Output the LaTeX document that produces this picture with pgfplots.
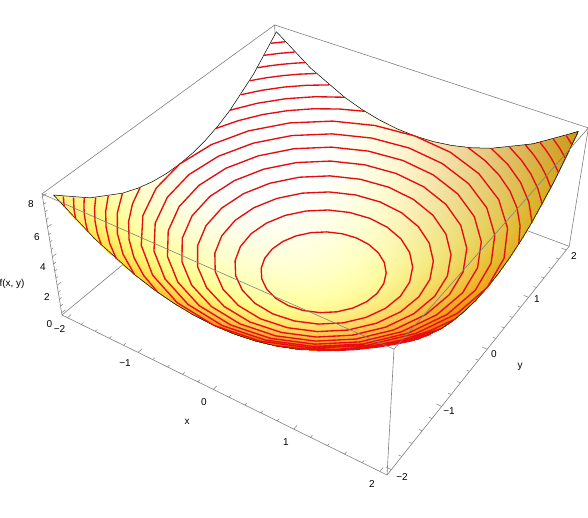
\documentclass[border=0pt]{standalone}
\usepackage{fontspec}
\setmainfont{Liberation Sans}
\usepackage{pgfplots}
\pgfplotsset{compat=1.18}
\definecolor{boxgray}{gray}{0.5}
\definecolor{txtgray}{gray}{0.38}
\definecolor{cont}{rgb}{0.9,0.05,0.07}
% perspective projection of the data coordinates to picture coordinates
\newcommand{\WW}{(1.03058-0.03101*\thisrow{x}+0.04639*\thisrow{y}-0.008894*\thisrow{z})}
\newcommand{\PX}{(333.356+66.13*\thisrow{x}+64.54*\thisrow{y}-2.776*\thisrow{z})/\WW}
\newcommand{\PY}{517-(285.945+23.73*\thisrow{x}-36.44*\thisrow{y}-16.28*\thisrow{z})/\WW}
\pgfmathdeclarefunction{zcl}{1}{\pgfmathparse{#1>1?1:(#1<0?0:#1)}}
\pgfmathdeclarefunction{zclg}{1}{\pgfmathparse{#1>1?1:(#1<0.41?0.41:#1)}}
\pgfmathdeclarefunction{pos}{1}{\pgfmathparse{#1>0?#1:0}}
\newcommand{\Xv}{(\thisrow{x})}
\newcommand{\Yv}{(\thisrow{y})}
\begin{document}
\begin{tikzpicture}
\useasboundingbox (0,0) rectangle (588pt,517pt);
\begin{axis}[at={(0,0)},anchor=south west,scale only axis,width=588pt,height=517pt,
  xmin=0,xmax=588,ymin=0,ymax=517,hide axis,clip=false,unbounded coords=jump,
  every node/.append style={font=\fontsize{9}{10}\selectfont,text=txtgray,inner sep=0pt}]
% back edges of the box
\addplot[boxgray,line width=0.6pt,no markers] table[x expr=\PX,y expr=\PY]{
x y z
-2.08 -2.08 8.16
-2.08 2.08 8.16
2.08 2.08 8.16
nan nan nan
-2.08 2.08 8.16
-2.08 2.08 -0.16
nan nan nan
-2.08 -2.08 -0.16
-2.08 2.08 -0.16
2.08 2.08 -0.16
};
% surface
\addplot[surf,shader=interp,mesh/cols=17,mesh/color input=explicit mathparse,
 point meta={symbolic={zcl((262-12*\Xv-3*\Yv-7*pos(\Xv)*pos(\Yv))/255),%
zclg((262-11*\Xv-4*\Yv-3.5*(\Xv+\Yv)*(\Xv+\Yv)-6*pos(\Xv)*pos(\Yv)-16*pos(\Xv-\Yv)*pos(\Xv-\Yv)-25*(\Xv+2)*pos(-\Yv-1)*pos(-\Yv-1))/255),%
zcl((195+45*(\Yv-\Xv)-12*(\Xv*\Xv+\Yv*\Yv)-18*pos(\Xv+\Yv)+6*pos(-\Xv-\Yv)-12*pos(-\Yv)*pos(-\Yv)+250*pos(-\Xv-1.5)*pos(-\Yv-1.5))/255)}}]
 table[x expr=\PX,y expr=\PY]{
x y z
-2 2 8
-1.75 2 7.0625
-1.5 2 6.25
-1.25 2 5.5625
-1 2 5
-0.75 2 4.5625
-0.5 2 4.25
-0.25 2 4.0625
0 2 4
0.25 2 4.0625
0.5 2 4.25
0.75 2 4.5625
1 2 5
1.25 2 5.5625
1.5 2 6.25
1.75 2 7.0625
2 2 8
-2 1.75 7.0625
-1.75 1.75 6.125
-1.5 1.75 5.3125
-1.25 1.75 4.625
-1 1.75 4.0625
-0.75 1.75 3.625
-0.5 1.75 3.3125
-0.25 1.75 3.125
0 1.75 3.0625
0.25 1.75 3.125
0.5 1.75 3.3125
0.75 1.75 3.625
1 1.75 4.0625
1.25 1.75 4.625
1.5 1.75 5.3125
1.75 1.75 6.125
2 1.75 7.0625
-2 1.5 6.25
-1.75 1.5 5.3125
-1.5 1.5 4.5
-1.25 1.5 3.8125
-1 1.5 3.25
-0.75 1.5 2.8125
-0.5 1.5 2.5
-0.25 1.5 2.3125
0 1.5 2.25
0.25 1.5 2.3125
0.5 1.5 2.5
0.75 1.5 2.8125
1 1.5 3.25
1.25 1.5 3.8125
1.5 1.5 4.5
1.75 1.5 5.3125
2 1.5 6.25
-2 1.25 5.5625
-1.75 1.25 4.625
-1.5 1.25 3.8125
-1.25 1.25 3.125
-1 1.25 2.5625
-0.75 1.25 2.125
-0.5 1.25 1.8125
-0.25 1.25 1.625
0 1.25 1.5625
0.25 1.25 1.625
0.5 1.25 1.8125
0.75 1.25 2.125
1 1.25 2.5625
1.25 1.25 3.125
1.5 1.25 3.8125
1.75 1.25 4.625
2 1.25 5.5625
-2 1 5
-1.75 1 4.0625
-1.5 1 3.25
-1.25 1 2.5625
-1 1 2
-0.75 1 1.5625
-0.5 1 1.25
-0.25 1 1.0625
0 1 1
0.25 1 1.0625
0.5 1 1.25
0.75 1 1.5625
1 1 2
1.25 1 2.5625
1.5 1 3.25
1.75 1 4.0625
2 1 5
-2 0.75 4.5625
-1.75 0.75 3.625
-1.5 0.75 2.8125
-1.25 0.75 2.125
-1 0.75 1.5625
-0.75 0.75 1.125
-0.5 0.75 0.8125
-0.25 0.75 0.625
0 0.75 0.5625
0.25 0.75 0.625
0.5 0.75 0.8125
0.75 0.75 1.125
1 0.75 1.5625
1.25 0.75 2.125
1.5 0.75 2.8125
1.75 0.75 3.625
2 0.75 4.5625
-2 0.5 4.25
-1.75 0.5 3.3125
-1.5 0.5 2.5
-1.25 0.5 1.8125
-1 0.5 1.25
-0.75 0.5 0.8125
-0.5 0.5 0.5
-0.25 0.5 0.3125
0 0.5 0.25
0.25 0.5 0.3125
0.5 0.5 0.5
0.75 0.5 0.8125
1 0.5 1.25
1.25 0.5 1.8125
1.5 0.5 2.5
1.75 0.5 3.3125
2 0.5 4.25
-2 0.25 4.0625
-1.75 0.25 3.125
-1.5 0.25 2.3125
-1.25 0.25 1.625
-1 0.25 1.0625
-0.75 0.25 0.625
-0.5 0.25 0.3125
-0.25 0.25 0.125
0 0.25 0.0625
0.25 0.25 0.125
0.5 0.25 0.3125
0.75 0.25 0.625
1 0.25 1.0625
1.25 0.25 1.625
1.5 0.25 2.3125
1.75 0.25 3.125
2 0.25 4.0625
-2 0 4
-1.75 0 3.0625
-1.5 0 2.25
-1.25 0 1.5625
-1 0 1
-0.75 0 0.5625
-0.5 0 0.25
-0.25 0 0.0625
0 0 0
0.25 0 0.0625
0.5 0 0.25
0.75 0 0.5625
1 0 1
1.25 0 1.5625
1.5 0 2.25
1.75 0 3.0625
2 0 4
-2 -0.25 4.0625
-1.75 -0.25 3.125
-1.5 -0.25 2.3125
-1.25 -0.25 1.625
-1 -0.25 1.0625
-0.75 -0.25 0.625
-0.5 -0.25 0.3125
-0.25 -0.25 0.125
0 -0.25 0.0625
0.25 -0.25 0.125
0.5 -0.25 0.3125
0.75 -0.25 0.625
1 -0.25 1.0625
1.25 -0.25 1.625
1.5 -0.25 2.3125
1.75 -0.25 3.125
2 -0.25 4.0625
-2 -0.5 4.25
-1.75 -0.5 3.3125
-1.5 -0.5 2.5
-1.25 -0.5 1.8125
-1 -0.5 1.25
-0.75 -0.5 0.8125
-0.5 -0.5 0.5
-0.25 -0.5 0.3125
0 -0.5 0.25
0.25 -0.5 0.3125
0.5 -0.5 0.5
0.75 -0.5 0.8125
1 -0.5 1.25
1.25 -0.5 1.8125
1.5 -0.5 2.5
1.75 -0.5 3.3125
2 -0.5 4.25
-2 -0.75 4.5625
-1.75 -0.75 3.625
-1.5 -0.75 2.8125
-1.25 -0.75 2.125
-1 -0.75 1.5625
-0.75 -0.75 1.125
-0.5 -0.75 0.8125
-0.25 -0.75 0.625
0 -0.75 0.5625
0.25 -0.75 0.625
0.5 -0.75 0.8125
0.75 -0.75 1.125
1 -0.75 1.5625
1.25 -0.75 2.125
1.5 -0.75 2.8125
1.75 -0.75 3.625
2 -0.75 4.5625
-2 -1 5
-1.75 -1 4.0625
-1.5 -1 3.25
-1.25 -1 2.5625
-1 -1 2
-0.75 -1 1.5625
-0.5 -1 1.25
-0.25 -1 1.0625
0 -1 1
0.25 -1 1.0625
0.5 -1 1.25
0.75 -1 1.5625
1 -1 2
1.25 -1 2.5625
1.5 -1 3.25
1.75 -1 4.0625
2 -1 5
-2 -1.25 5.5625
-1.75 -1.25 4.625
-1.5 -1.25 3.8125
-1.25 -1.25 3.125
-1 -1.25 2.5625
-0.75 -1.25 2.125
-0.5 -1.25 1.8125
-0.25 -1.25 1.625
0 -1.25 1.5625
0.25 -1.25 1.625
0.5 -1.25 1.8125
0.75 -1.25 2.125
1 -1.25 2.5625
1.25 -1.25 3.125
1.5 -1.25 3.8125
1.75 -1.25 4.625
2 -1.25 5.5625
-2 -1.5 6.25
-1.75 -1.5 5.3125
-1.5 -1.5 4.5
-1.25 -1.5 3.8125
-1 -1.5 3.25
-0.75 -1.5 2.8125
-0.5 -1.5 2.5
-0.25 -1.5 2.3125
0 -1.5 2.25
0.25 -1.5 2.3125
0.5 -1.5 2.5
0.75 -1.5 2.8125
1 -1.5 3.25
1.25 -1.5 3.8125
1.5 -1.5 4.5
1.75 -1.5 5.3125
2 -1.5 6.25
-2 -1.75 7.0625
-1.75 -1.75 6.125
-1.5 -1.75 5.3125
-1.25 -1.75 4.625
-1 -1.75 4.0625
-0.75 -1.75 3.625
-0.5 -1.75 3.3125
-0.25 -1.75 3.125
0 -1.75 3.0625
0.25 -1.75 3.125
0.5 -1.75 3.3125
0.75 -1.75 3.625
1 -1.75 4.0625
1.25 -1.75 4.625
1.5 -1.75 5.3125
1.75 -1.75 6.125
2 -1.75 7.0625
-2 -2 8
-1.75 -2 7.0625
-1.5 -2 6.25
-1.25 -2 5.5625
-1 -2 5
-0.75 -2 4.5625
-0.5 -2 4.25
-0.25 -2 4.0625
0 -2 4
0.25 -2 4.0625
0.5 -2 4.25
0.75 -2 4.5625
1 -2 5
1.25 -2 5.5625
1.5 -2 6.25
1.75 -2 7.0625
2 -2 8
};
% outline of the surface
\addplot[black,line width=0.5pt,no markers] table[x expr=\PX,y expr=\PY]{
x y z
-2 2 8
-1.5 2 6.25
-1 2 5
-0.75 2 4.5625
-0.5 2 4.25
-0.25 2 4.0625
0 2 4
0.25 2 4.0625
0.5 2 4.25
0.75 2 4.5625
1 2 5
1.5 2 6.25
2 2 8
2 1.5 6.25
2 1 5
2 0.75 4.5625
2 0.5 4.25
2 0.25 4.0625
2 0 4
2 -0.25 4.0625
2 -0.5 4.25
2 -0.75 4.5625
2 -1 5
2 -1.5 6.25
2 -2 8
1.5 -2 6.25
1 -2 5
0.75 -2 4.5625
0.5 -2 4.25
0.25 -2 4.0625
0 -2 4
-0.25 -2 4.0625
-0.5 -2 4.25
-0.75 -2 4.5625
-1 -2 5
-1.5 -2 6.25
-2 -2 8
-2 -1.5 6.25
-2 -1 5
-2 -0.75 4.5625
-2 -0.5 4.25
-2 -0.25 4.0625
-2 0 4
-2 0.25 4.0625
-2 0.5 4.25
-2 0.75 4.5625
-2 1 5
-2 1.5 6.25
-2 2 8
};
% contour lines, z = 0.5, 1, ..., 7.5
\addplot[cont,line width=1.35pt,no markers,line join=round] table[x expr=\PX,y expr=\PY]{
x y z
0.707 0 0.5
0.683 0.183 0.5
0.612 0.354 0.5
0.5 0.5 0.5
0.354 0.612 0.5
0.183 0.683 0.5
0 0.707 0.5
-0.183 0.683 0.5
-0.354 0.612 0.5
-0.5 0.5 0.5
-0.612 0.354 0.5
-0.683 0.183 0.5
-0.707 0 0.5
-0.683 -0.183 0.5
-0.612 -0.354 0.5
-0.5 -0.5 0.5
-0.354 -0.612 0.5
-0.183 -0.683 0.5
0 -0.707 0.5
0.183 -0.683 0.5
0.354 -0.612 0.5
0.5 -0.5 0.5
0.612 -0.354 0.5
0.683 -0.183 0.5
0.707 0 0.5
nan nan nan
1 0 1
0.966 0.259 1
0.866 0.5 1
0.707 0.707 1
0.5 0.866 1
0.259 0.966 1
0 1 1
-0.259 0.966 1
-0.5 0.866 1
-0.707 0.707 1
-0.866 0.5 1
-0.966 0.259 1
-1 0 1
-0.966 -0.259 1
-0.866 -0.5 1
-0.707 -0.707 1
-0.5 -0.866 1
-0.259 -0.966 1
0 -1 1
0.259 -0.966 1
0.5 -0.866 1
0.707 -0.707 1
0.866 -0.5 1
0.966 -0.259 1
1 0 1
nan nan nan
1.225 0 1.5
1.183 0.317 1.5
1.061 0.612 1.5
0.866 0.866 1.5
0.612 1.061 1.5
0.317 1.183 1.5
0 1.225 1.5
-0.317 1.183 1.5
-0.612 1.061 1.5
-0.866 0.866 1.5
-1.061 0.612 1.5
-1.183 0.317 1.5
-1.225 0 1.5
-1.183 -0.317 1.5
-1.061 -0.612 1.5
-0.866 -0.866 1.5
-0.612 -1.061 1.5
-0.317 -1.183 1.5
0 -1.225 1.5
0.317 -1.183 1.5
0.612 -1.061 1.5
0.866 -0.866 1.5
1.061 -0.612 1.5
1.183 -0.317 1.5
1.225 0 1.5
nan nan nan
1.414 0 2
1.366 0.366 2
1.225 0.707 2
1 1 2
0.707 1.225 2
0.366 1.366 2
0 1.414 2
-0.366 1.366 2
-0.707 1.225 2
-1 1 2
-1.225 0.707 2
-1.366 0.366 2
-1.414 0 2
-1.366 -0.366 2
-1.225 -0.707 2
-1 -1 2
-0.707 -1.225 2
-0.366 -1.366 2
0 -1.414 2
0.366 -1.366 2
0.707 -1.225 2
1 -1 2
1.225 -0.707 2
1.366 -0.366 2
1.414 0 2
nan nan nan
1.581 0 2.5
1.527 0.409 2.5
1.369 0.791 2.5
1.118 1.118 2.5
0.791 1.369 2.5
0.409 1.527 2.5
0 1.581 2.5
-0.409 1.527 2.5
-0.791 1.369 2.5
-1.118 1.118 2.5
-1.369 0.791 2.5
-1.527 0.409 2.5
-1.581 0 2.5
-1.527 -0.409 2.5
-1.369 -0.791 2.5
-1.118 -1.118 2.5
-0.791 -1.369 2.5
-0.409 -1.527 2.5
0 -1.581 2.5
0.409 -1.527 2.5
0.791 -1.369 2.5
1.118 -1.118 2.5
1.369 -0.791 2.5
1.527 -0.409 2.5
1.581 0 2.5
nan nan nan
1.732 0 3
1.673 0.448 3
1.5 0.866 3
1.225 1.225 3
0.866 1.5 3
0.448 1.673 3
0 1.732 3
-0.448 1.673 3
-0.866 1.5 3
-1.225 1.225 3
-1.5 0.866 3
-1.673 0.448 3
-1.732 0 3
-1.673 -0.448 3
-1.5 -0.866 3
-1.225 -1.225 3
-0.866 -1.5 3
-0.448 -1.673 3
0 -1.732 3
0.448 -1.673 3
0.866 -1.5 3
1.225 -1.225 3
1.5 -0.866 3
1.673 -0.448 3
1.732 0 3
nan nan nan
1.871 0 3.5
1.807 0.484 3.5
1.62 0.935 3.5
1.323 1.323 3.5
0.935 1.62 3.5
0.484 1.807 3.5
0 1.871 3.5
-0.484 1.807 3.5
-0.935 1.62 3.5
-1.323 1.323 3.5
-1.62 0.935 3.5
-1.807 0.484 3.5
-1.871 0 3.5
-1.807 -0.484 3.5
-1.62 -0.935 3.5
-1.323 -1.323 3.5
-0.935 -1.62 3.5
-0.484 -1.807 3.5
0 -1.871 3.5
0.484 -1.807 3.5
0.935 -1.62 3.5
1.323 -1.323 3.5
1.62 -0.935 3.5
1.807 -0.484 3.5
1.871 0 3.5
nan nan nan
2 0 4
1.932 0.518 4
1.732 1 4
1.414 1.414 4
1 1.732 4
0.518 1.932 4
0 2 4
-0.518 1.932 4
-1 1.732 4
-1.414 1.414 4
-1.732 1 4
-1.932 0.518 4
-2 0 4
-1.932 -0.518 4
-1.732 -1 4
-1.414 -1.414 4
-1 -1.732 4
-0.518 -1.932 4
0 -2 4
0.518 -1.932 4
1 -1.732 4
1.414 -1.414 4
1.732 -1 4
1.932 -0.518 4
2 0 4
nan nan nan
2 0.707 4.5
1.873 0.995 4.5
1.706 1.261 4.5
1.5 1.5 4.5
1.261 1.706 4.5
0.995 1.873 4.5
0.707 2 4.5
nan nan nan
-2 0.707 4.5
-1.873 0.995 4.5
-1.706 1.261 4.5
-1.5 1.5 4.5
-1.261 1.706 4.5
-0.995 1.873 4.5
-0.707 2 4.5
nan nan nan
2 -0.707 4.5
1.873 -0.995 4.5
1.706 -1.261 4.5
1.5 -1.5 4.5
1.261 -1.706 4.5
0.995 -1.873 4.5
0.707 -2 4.5
nan nan nan
-2 -0.707 4.5
-1.873 -0.995 4.5
-1.706 -1.261 4.5
-1.5 -1.5 4.5
-1.261 -1.706 4.5
-0.995 -1.873 4.5
-0.707 -2 4.5
nan nan nan
2 1 5
1.814 1.307 5
1.581 1.581 5
1.307 1.814 5
1 2 5
nan nan nan
-2 1 5
-1.814 1.307 5
-1.581 1.581 5
-1.307 1.814 5
-1 2 5
nan nan nan
2 -1 5
1.814 -1.307 5
1.581 -1.581 5
1.307 -1.814 5
1 -2 5
nan nan nan
-2 -1 5
-1.814 -1.307 5
-1.581 -1.581 5
-1.307 -1.814 5
-1 -2 5
nan nan nan
2 1.225 5.5
1.842 1.451 5.5
1.658 1.658 5.5
1.451 1.842 5.5
1.225 2 5.5
nan nan nan
-2 1.225 5.5
-1.842 1.451 5.5
-1.658 1.658 5.5
-1.451 1.842 5.5
-1.225 2 5.5
nan nan nan
2 -1.225 5.5
1.842 -1.451 5.5
1.658 -1.658 5.5
1.451 -1.842 5.5
1.225 -2 5.5
nan nan nan
-2 -1.225 5.5
-1.842 -1.451 5.5
-1.658 -1.658 5.5
-1.451 -1.842 5.5
-1.225 -2 5.5
nan nan nan
2 1.414 6
1.873 1.579 6
1.732 1.732 6
1.579 1.873 6
1.414 2 6
nan nan nan
-2 1.414 6
-1.873 1.579 6
-1.732 1.732 6
-1.579 1.873 6
-1.414 2 6
nan nan nan
2 -1.414 6
1.873 -1.579 6
1.732 -1.732 6
1.579 -1.873 6
1.414 -2 6
nan nan nan
-2 -1.414 6
-1.873 -1.579 6
-1.732 -1.732 6
-1.579 -1.873 6
-1.414 -2 6
nan nan nan
2 1.581 6.5
1.904 1.695 6.5
1.803 1.803 6.5
1.695 1.904 6.5
1.581 2 6.5
nan nan nan
-2 1.581 6.5
-1.904 1.695 6.5
-1.803 1.803 6.5
-1.695 1.904 6.5
-1.581 2 6.5
nan nan nan
2 -1.581 6.5
1.904 -1.695 6.5
1.803 -1.803 6.5
1.695 -1.904 6.5
1.581 -2 6.5
nan nan nan
-2 -1.581 6.5
-1.904 -1.695 6.5
-1.803 -1.803 6.5
-1.695 -1.904 6.5
-1.581 -2 6.5
nan nan nan
2 1.732 7
1.871 1.871 7
1.732 2 7
nan nan nan
-2 1.732 7
-1.871 1.871 7
-1.732 2 7
nan nan nan
2 -1.732 7
1.871 -1.871 7
1.732 -2 7
nan nan nan
-2 -1.732 7
-1.871 -1.871 7
-1.732 -2 7
nan nan nan
2 1.871 7.5
1.936 1.936 7.5
1.871 2 7.5
nan nan nan
-2 1.871 7.5
-1.936 1.936 7.5
-1.871 2 7.5
nan nan nan
2 -1.871 7.5
1.936 -1.936 7.5
1.871 -2 7.5
nan nan nan
-2 -1.871 7.5
-1.936 -1.936 7.5
-1.871 -2 7.5
};
% front edges of the box
\addplot[boxgray,line width=0.6pt,no markers] table[x expr=\PX,y expr=\PY]{
x y z
-2.08 -2.08 -0.16
-2.08 -2.08 8.16
2.08 -2.08 8.16
2.08 2.08 8.16
2.08 2.08 -0.16
2.08 -2.08 -0.16
-2.08 -2.08 -0.16
nan nan nan
2.08 -2.08 8.16
2.08 -2.08 -0.16
};
% tick marks
\addplot[boxgray,line width=0.5pt,no markers] table[x expr=\PX,y expr=\PY]{
x y z
-2 -2.08 -0.16
-2 -2.02 -0.16
nan nan nan
-1.8 -2.08 -0.16
-1.8 -2.045 -0.16
nan nan nan
-1.6 -2.08 -0.16
-1.6 -2.045 -0.16
nan nan nan
-1.4 -2.08 -0.16
-1.4 -2.045 -0.16
nan nan nan
-1.2 -2.08 -0.16
-1.2 -2.045 -0.16
nan nan nan
-1 -2.08 -0.16
-1 -2.02 -0.16
nan nan nan
-0.8 -2.08 -0.16
-0.8 -2.045 -0.16
nan nan nan
-0.6 -2.08 -0.16
-0.6 -2.045 -0.16
nan nan nan
-0.4 -2.08 -0.16
-0.4 -2.045 -0.16
nan nan nan
-0.2 -2.08 -0.16
-0.2 -2.045 -0.16
nan nan nan
0 -2.08 -0.16
0 -2.02 -0.16
nan nan nan
0.2 -2.08 -0.16
0.2 -2.045 -0.16
nan nan nan
0.4 -2.08 -0.16
0.4 -2.045 -0.16
nan nan nan
0.6 -2.08 -0.16
0.6 -2.045 -0.16
nan nan nan
0.8 -2.08 -0.16
0.8 -2.045 -0.16
nan nan nan
1 -2.08 -0.16
1 -2.02 -0.16
nan nan nan
1.2 -2.08 -0.16
1.2 -2.045 -0.16
nan nan nan
1.4 -2.08 -0.16
1.4 -2.045 -0.16
nan nan nan
1.6 -2.08 -0.16
1.6 -2.045 -0.16
nan nan nan
1.8 -2.08 -0.16
1.8 -2.045 -0.16
nan nan nan
2 -2.08 -0.16
2 -2.02 -0.16
nan nan nan
2.08 -2 -0.16
2.02 -2 -0.16
nan nan nan
2.08 -1.8 -0.16
2.045 -1.8 -0.16
nan nan nan
2.08 -1.6 -0.16
2.045 -1.6 -0.16
nan nan nan
2.08 -1.4 -0.16
2.045 -1.4 -0.16
nan nan nan
2.08 -1.2 -0.16
2.045 -1.2 -0.16
nan nan nan
2.08 -1 -0.16
2.02 -1 -0.16
nan nan nan
2.08 -0.8 -0.16
2.045 -0.8 -0.16
nan nan nan
2.08 -0.6 -0.16
2.045 -0.6 -0.16
nan nan nan
2.08 -0.4 -0.16
2.045 -0.4 -0.16
nan nan nan
2.08 -0.2 -0.16
2.045 -0.2 -0.16
nan nan nan
2.08 0 -0.16
2.02 0 -0.16
nan nan nan
2.08 0.2 -0.16
2.045 0.2 -0.16
nan nan nan
2.08 0.4 -0.16
2.045 0.4 -0.16
nan nan nan
2.08 0.6 -0.16
2.045 0.6 -0.16
nan nan nan
2.08 0.8 -0.16
2.045 0.8 -0.16
nan nan nan
2.08 1 -0.16
2.02 1 -0.16
nan nan nan
2.08 1.2 -0.16
2.045 1.2 -0.16
nan nan nan
2.08 1.4 -0.16
2.045 1.4 -0.16
nan nan nan
2.08 1.6 -0.16
2.045 1.6 -0.16
nan nan nan
2.08 1.8 -0.16
2.045 1.8 -0.16
nan nan nan
2.08 2 -0.16
2.02 2 -0.16
nan nan nan
-2.08 -2.08 0
-2.08 -2.02 0
nan nan nan
-2.08 -2.08 0.5
-2.08 -2.045 0.5
nan nan nan
-2.08 -2.08 1
-2.08 -2.045 1
nan nan nan
-2.08 -2.08 1.5
-2.08 -2.045 1.5
nan nan nan
-2.08 -2.08 2
-2.08 -2.02 2
nan nan nan
-2.08 -2.08 2.5
-2.08 -2.045 2.5
nan nan nan
-2.08 -2.08 3
-2.08 -2.045 3
nan nan nan
-2.08 -2.08 3.5
-2.08 -2.045 3.5
nan nan nan
-2.08 -2.08 4
-2.08 -2.02 4
nan nan nan
-2.08 -2.08 4.5
-2.08 -2.045 4.5
nan nan nan
-2.08 -2.08 5
-2.08 -2.045 5
nan nan nan
-2.08 -2.08 5.5
-2.08 -2.045 5.5
nan nan nan
-2.08 -2.08 6
-2.08 -2.02 6
nan nan nan
-2.08 -2.08 6.5
-2.08 -2.045 6.5
nan nan nan
-2.08 -2.08 7
-2.08 -2.045 7
nan nan nan
-2.08 -2.08 7.5
-2.08 -2.045 7.5
nan nan nan
-2.08 -2.08 8
-2.08 -2.02 8
};
% tick labels and axis labels
\node at (axis cs:31,313) {8};
\node at (axis cs:37,280) {6};
\node at (axis cs:43,250) {4};
\node at (axis cs:47,220) {2};
\node at (axis cs:49.5,193) {0};
\node at (axis cs:59.5,188) {−2};
\node at (axis cs:125,154) {−1};
\node at (axis cs:204,115) {0};
\node at (axis cs:286,75) {1};
\node at (axis cs:372,33) {2};
\node at (axis cs:402,40) {−2};
\node at (axis cs:449,106) {−1};
\node at (axis cs:494,163) {0};
\node at (axis cs:537,218) {1};
\node at (axis cs:574,261) {2};
\node at (axis cs:187,95) {x};
\node at (axis cs:520,150) {y};
\node at (axis cs:12,233) {f(x, y)};
\end{axis}
\end{tikzpicture}
\end{document}
